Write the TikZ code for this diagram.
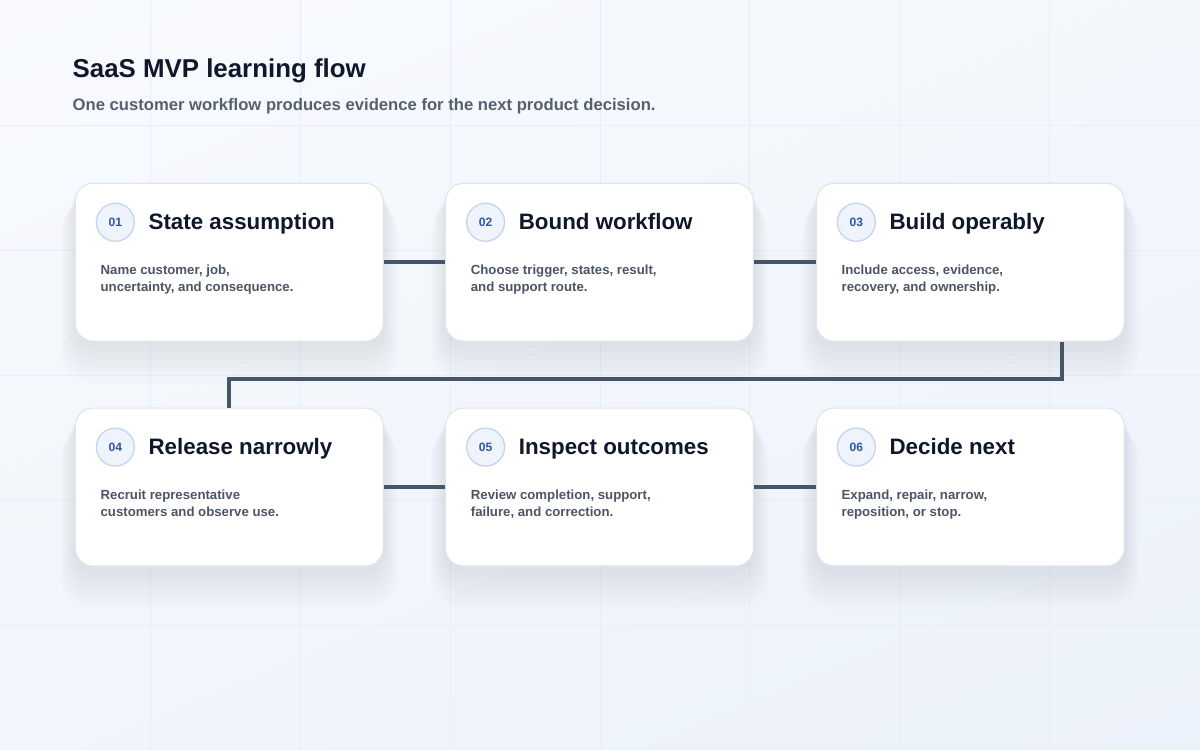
\documentclass[tikz,border=0pt]{standalone}
\usepackage{fontspec}
\setmainfont{Liberation Sans}
\usepackage{xcolor}
\usepackage{tikz}
\usetikzlibrary{shadings,backgrounds}
\definecolor{inkdark}{HTML}{0F172A}
\definecolor{subgray}{HTML}{556070}
\definecolor{bodygray}{HTML}{4B5563}
\definecolor{linkslate}{HTML}{475569}
\definecolor{badgeblue}{HTML}{2F55A4}
\definecolor{badgefill}{HTML}{EEF3FC}
\definecolor{badgeline}{HTML}{C5D3EE}
\definecolor{cardline}{HTML}{DFE5EE}
\definecolor{gridline}{HTML}{E9EDF5}
\definecolor{shadowtint}{HTML}{7A88A8}
\definecolor{bgtop}{HTML}{F8FAFD}
\definecolor{bgbottom}{HTML}{ECF2FB}
\tikzset{
cardbox/.style={rectangle, rounded corners=0.45cm, draw=cardline, fill=white, line width=0.8pt, minimum width=7.7cm, minimum height=3.95cm, inner sep=0pt},
badgecircle/.style={circle, draw=badgeline, fill=badgefill, line width=0.9pt, inner sep=0pt, minimum size=0.95cm, text=badgeblue, font=\fontsize{8.6}{10}\bfseries},
cardtitle/.style={anchor=base west, inner sep=0pt, text=inkdark, font=\fontsize{15.9}{18}\selectfont\bfseries},
cardbody/.style={anchor=base west, inner sep=0pt, align=left, text=bodygray, font=\fontsize{9.4}{12.05}\selectfont\bfseries},
link/.style={draw=linkslate, line width=2.8pt},
}
% soft shadow under a card, drawn on the background layer
\newcommand{\cardshadow}[1]{
  \begin{pgfonlayer}{background}
  \foreach \s in {1,...,10}
    \fill[shadowtint, opacity=0.016, rounded corners=0.5cm+\s*0.03cm]
      ([xshift=-\s*0.035cm, yshift=-\s*0.05cm]#1.north west) rectangle ([xshift=\s*0.035cm, yshift=-0.05cm-\s*0.1cm]#1.south east);
  \end{pgfonlayer}
}
\begin{document}
\begin{tikzpicture}[x=0.025cm, y=-0.025cm]
    \begin{pgfonlayer}{background}
    \shade[upper left=bgtop, upper right=bgtop!60!bgbottom, lower left=bgtop!40!bgbottom, lower right=bgbottom] (0,0) rectangle (1200,750);
    \foreach \gx in {150,300,...,1050} \draw[gridline, line width=0.6pt] (\gx,0) -- (\gx,750);
    \foreach \gy in {125,250,...,625} \draw[gridline, line width=0.6pt] (0,\gy) -- (1200,\gy);
    \end{pgfonlayer}
    \useasboundingbox (0,0) rectangle (1200,750);

    \node[anchor=base west, inner sep=0pt, text=inkdark, font=\fontsize{18.4}{22}\selectfont\bfseries] at (72,77) (heading) {SaaS MVP learning flow};
    \node[anchor=base west, inner sep=0pt, text=subgray, font=\fontsize{11.85}{14}\selectfont\bfseries] at (72,110) (subheading) {One customer workflow produces evidence for the next product decision.};

    \coordinate (jog) at (1062,379);

    \node[cardbox] at (229,262) (card1) {};
    \node[cardbox] at (599.5,262) (card2) {};
    \node[cardbox] at (970.5,262) (card3) {};
    \node[cardbox] at (229,487) (card4) {};
    \node[cardbox] at (599.5,487) (card5) {};
    \node[cardbox] at (970.5,487) (card6) {};
    \cardshadow{card1} \cardshadow{card2} \cardshadow{card3}
    \cardshadow{card4} \cardshadow{card5} \cardshadow{card6}

     \draw[link] (card1.east) to (card2.west);
     \draw[link] (card2.east) to (card3.west);
     \draw[link] (card4.east) to (card5.west);
     \draw[link] (card5.east) to (card6.west);
     \draw[link] (card3.south -| jog) -- (jog) -- (jog -| card4.north) -- (card4.north);

    \node[badgecircle] at (115,222) (badge1) {01};
    \node[cardtitle] at (148,229) (title1) {State assumption};
    \node[cardbody] at (100,291) (body1) {Name customer, job,\\uncertainty, and consequence.};

    \node[badgecircle] at (485.5,222) (badge2) {02};
    \node[cardtitle] at (518.5,229) (title2) {Bound workflow};
    \node[cardbody] at (470.5,291) (body2) {Choose trigger, states, result,\\and support route.};

    \node[badgecircle] at (856.5,222) (badge3) {03};
    \node[cardtitle] at (889.5,229) (title3) {Build operably};
    \node[cardbody] at (841.5,291) (body3) {Include access, evidence,\\recovery, and ownership.};

    \node[badgecircle] at (115,447) (badge4) {04};
    \node[cardtitle] at (148,454) (title4) {Release narrowly};
    \node[cardbody] at (100,516) (body4) {Recruit representative\\customers and observe use.};

    \node[badgecircle] at (485.5,447) (badge5) {05};
    \node[cardtitle] at (518.5,454) (title5) {Inspect outcomes};
    \node[cardbody] at (470.5,516) (body5) {Review completion, support,\\failure, and correction.};

    \node[badgecircle] at (856.5,447) (badge6) {06};
    \node[cardtitle] at (889.5,454) (title6) {Decide next};
    \node[cardbody] at (841.5,516) (body6) {Expand, repair, narrow,\\reposition, or stop.};
\end{tikzpicture}
\end{document}
